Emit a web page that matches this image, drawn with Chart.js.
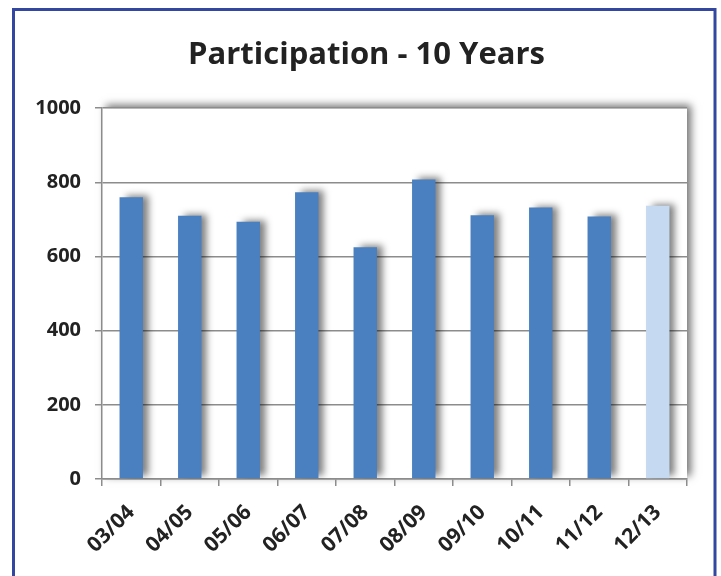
<!DOCTYPE html>
<html>
<head>
<meta charset="utf-8">
<script src="https://cdn.jsdelivr.net/npm/chart.js@4"></script>
<style>
  html, body { margin: 0; padding: 0; background: #fff; }
  #wrap { width: 721px; height: 576px; position: relative; }
</style>
</head>
<body>
<div id="wrap"><canvas id="chart" width="721" height="576"></canvas></div>
<script>
const seasons = ['03/04', '04/05', '05/06', '06/07', '07/08', '08/09', '09/10', '10/11', '11/12', '12/13']
const participants = [760, 710, 694, 773, 625, 808, 711, 732, 708, 737]
const barColors = ['#4a7fc0', '#4a7fc0', '#4a7fc0', '#4a7fc0', '#4a7fc0', '#4a7fc0', '#4a7fc0', '#4a7fc0', '#4a7fc0', '#c5d9f0']
const yTicks = [0, 200, 400, 600, 800, 1000]

const frame = {
  id: 'frame',
  beforeDraw(chart) {
    const ctx = chart.ctx
    const a = chart.chartArea
    ctx.save()
    ctx.fillStyle = '#fff'
    ctx.fillRect(0, 0, chart.width, chart.height)
    // outer blue border
    ctx.strokeStyle = '#3447a0'
    ctx.lineWidth = 3
    ctx.strokeRect(13.5, 9.5, 701.5, 640)
    // plot area shadow
    ctx.shadowColor = 'rgba(0,0,0,0.55)'
    ctx.shadowBlur = 8
    ctx.shadowOffsetX = 4
    ctx.shadowOffsetY = -3
    ctx.fillStyle = '#fff'
    ctx.fillRect(a.left, a.top, a.right - a.left, a.bottom - a.top)
    ctx.restore()
  },
  beforeDatasetsDraw(chart) {
    const ctx = chart.ctx
    ctx.save()
    ctx.shadowColor = 'rgba(0,0,0,0.5)'
    ctx.shadowBlur = 7
    ctx.shadowOffsetX = 6
    ctx.shadowOffsetY = -2
  },
  afterDatasetsDraw(chart) {
    chart.ctx.restore()
  }
}

new Chart(document.getElementById('chart').getContext('2d'), {
  type: 'bar',
  data: {
    labels: seasons,
    datasets: [{
      data: participants,
      backgroundColor: barColors,
      borderWidth: 0,
      barPercentage: 0.8,
      categoryPercentage: 0.5
    }]
  },
  options: {
    responsive: false,
    animation: false,
    layout: { padding: { left: 12, right: 0, top: 0, bottom: 0 } },
    plugins: {
      legend: { display: false },
      tooltip: { enabled: false },
      title: {
        display: true,
        text: 'Participation - 10 Years',
        color: '#222',
        font: { family: 'Open Sans', size: 31, weight: 'bold' },
        padding: { top: 37, bottom: 34 }
      }
    },
    scales: {
      x: {
        grid: { display: true, drawOnChartArea: false, offset: true, color: '#8c8c8c', lineWidth: 1.5, tickLength: 7 },
        border: { color: '#8c8c8c', width: 1.5 },
        ticks: {
          color: '#222',
          font: { family: 'Open Sans', size: 21, weight: 'bold' },
          minRotation: 45,
          maxRotation: 45,
          padding: 14
        },
        afterFit(scale) { scale.height = 97 }
      },
      y: {
        min: 0,
        max: 1000,
        afterBuildTicks(scale) { scale.ticks = yTicks.map(v => ({ value: v })) },
        grid: { color: '#8c8c8c', lineWidth: 1.5, tickLength: 7 },
        border: { color: '#8c8c8c', width: 1.5 },
        ticks: {
          color: '#222',
          font: { family: 'Open Sans', size: 20, weight: 'bold' },
          padding: 14,
          callback: v => String(v)
        },
        afterFit(scale) { scale.width = 90 }
      },
      // empty right-hand spacer so the plot ends where the reference's does
      spacer: {
        type: 'linear',
        position: 'right',
        grid: { display: false },
        border: { display: false },
        ticks: { display: false },
        afterFit(scale) { scale.width = 34 }
      }
    }
  },
  plugins: [frame]
})
</script>
</body>
</html>
